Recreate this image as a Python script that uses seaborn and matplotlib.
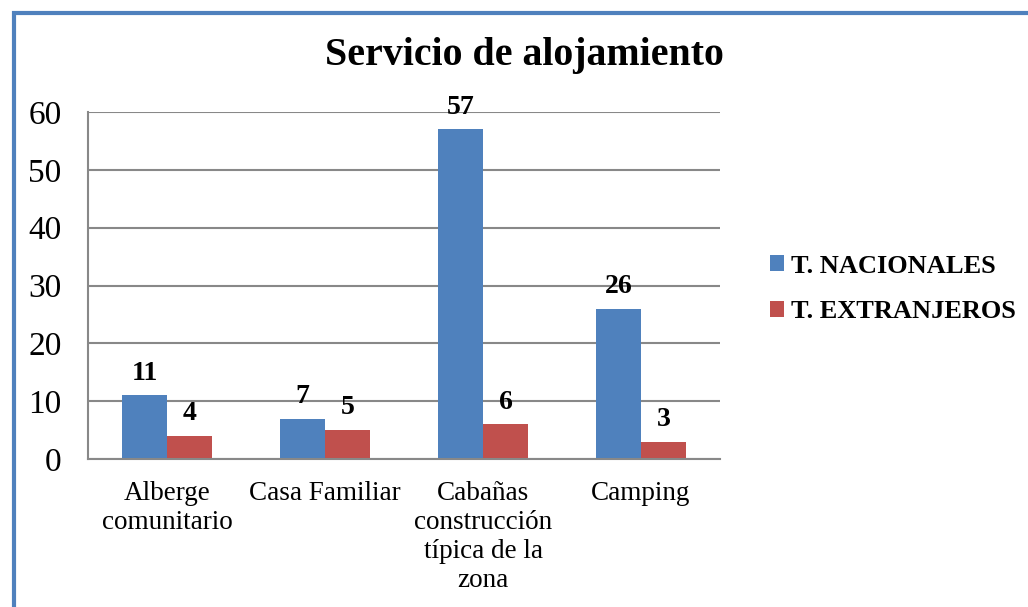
import numpy as np
import pandas as pd
import matplotlib.pyplot as plt
import matplotlib.patches as mpatches
import seaborn as sns

categorias = ["Alberge\ncomunitario", "Casa Familiar",
              "Cabañas\nconstrucción\ntípica de la\nzona", "Camping"]
nacionales = [11, 7, 57, 26]
extranjeros = [4, 5, 6, 3]
series = ["T. NACIONALES", "T. EXTRANJEROS"]

df = pd.DataFrame({
    "categoria": categorias * 2,
    "valor": nacionales + extranjeros,
    "serie": [series[0]] * 4 + [series[1]] * 4,
})

sns.set_style("white")
plt.rcParams["font.family"] = ["Liberation Serif", "DejaVu Serif"]
plt.rcParams["text.color"] = "black"
plt.rcParams["xtick.color"] = "black"
plt.rcParams["ytick.color"] = "black"

fig = plt.figure(figsize=(10.28, 6.07), dpi=100)
ax = fig.add_axes([0.0856, 0.2438, 0.6148, 0.5717])

sns.barplot(data=df, x="categoria", y="valor", hue="serie",
            palette=["#4F81BD", "#C0504D"], width=0.57, ax=ax,
            saturation=1, linewidth=0, legend=True)

ax.set_ylim(0, 60)
ax.set_yticks(range(0, 61, 10))
ax.yaxis.grid(True, color="#888888", linewidth=1.5)
ax.set_axisbelow(True)
ax.set_xlabel("")
ax.set_ylabel("")
for s in ["top", "right"]:
    ax.spines[s].set_visible(False)
for s in ["left", "bottom"]:
    ax.spines[s].set_color("#888888")
    ax.spines[s].set_linewidth(1.5)
ax.tick_params(axis="y", length=0, pad=19, labelsize=24)
ax.tick_params(axis="x", length=0, pad=16, labelsize=19.5)
for t in ax.get_xticklabels():
    t.set_linespacing(1.2)
    t.set_va("top")

for cont in ax.containers:
    for bar in cont:
        h = bar.get_height()
        ax.annotate(f"{int(h)}", (bar.get_x() + bar.get_width() / 2, h),
                    xytext=(0, 7), textcoords="offset points",
                    ha="center", va="bottom", fontsize=20, fontweight="bold")

handles, labels = ax.get_legend_handles_labels()
ax.legend(handles, labels, loc="center left", bbox_to_anchor=(1.062, 0.49),
          frameon=False, prop={"size": 19, "weight": "bold"},
          handlelength=0.55, handleheight=0.55, handletextpad=0.25,
          labelspacing=0.85, borderaxespad=0)

fig.text(0.51, 0.908, "Servicio de alojamiento", ha="center", va="center",
         fontsize=28.7, fontweight="bold")

border = mpatches.Rectangle((0.0135, -0.05), 1.1, 1.0285, transform=fig.transFigure,
                            fill=False, edgecolor="#4F81BD", linewidth=3)
fig.patches.append(border)

fig.savefig("out.png", dpi=100)
